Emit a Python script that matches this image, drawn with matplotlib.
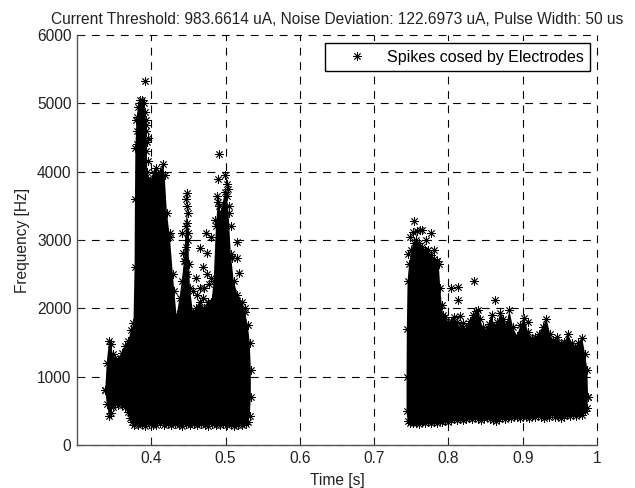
import matplotlib
matplotlib.use("Agg")
import matplotlib.pyplot as plt

plt.rcParams['font.family'] = ['Liberation Sans', 'DejaVu Sans']

# upper and lower outlines of the two black clouds
burst1_top_t = [.338, .340, .343, .346, .348, .351, .355, .360, .3645, .3685, .373, .376, .3775, .378,
                .3786, .380, .382, .385, .388, .390, .392, .393, .394, .3945, .396, .398, .4008, .403,
                .406, .409, .412, .4156, .418, .421, .425, .429, .431, .434, .438, .441, .444, .4465,
                .448, .4495, .452, .456, .460, .465, .471, .476, .481, .484, .487, .4895, .4935, .499,
                .5016, .504, .507, .511, .516, .522, .526, .530, .5325, .534]
burst1_top_f = [800, 1200, 1520, 1480, 1330, 1280, 1250, 1350, 1450, 1520, 1680, 1780, 2600, 3600,
                4350, 4760, 4950, 5050, 5050, 5000, 4880, 4690, 4440, 4000, 3900, 3860, 3880, 3980,
                4050, 3950, 4000, 4110, 3950, 3400, 3050, 2500, 2250, 1900, 2150, 2400, 2700, 3200,
                3500, 3100, 2300, 1950, 2000, 2100, 2000, 2100, 2100, 2400, 3200, 3550, 3400, 3700,
                3650, 3400, 2800, 2400, 2200, 2100, 1950, 1750, 1500, 1100]
burst1_low_t = [.338, .340, .343, .346, .348, .351, .355, .360, .365, .368, .371, .374, .3766,
                .382, .387, .392, .397, .402, .407, .412, .417, .422, .427, .432, .437, .442, .447,
                .452, .457, .462, .467, .472, .477, .482, .487, .492, .497, .502, .507, .512, .517,
                .522, .527, .530, .5325, .534]
burst1_low_f = [800, 600, 430, 470, 560, 620, 590, 580, 560, 480, 400, 340, 300,
                290, 305, 285, 310, 300, 290, 315, 295, 305, 290, 310, 300, 285, 305,
                295, 310, 290, 305, 295, 285, 310, 300, 290, 305, 295, 310, 285, 300,
                295, 310, 330, 420, 700]

burst2_top_t = [.7436, .744, .745, .747, .750, .753, .756, .760, .764, .768, .772, .776, .780, .784, .787,
                .789, .791, .793, .796, .799, .803, .807, .811, .815, .819, .823,
                .826, .829, .833, .837, .840, .843, .846, .850, .854, .858, .862, .866, .870, .874, .878,
                .882, .887, .892, .897, .902, .907, .912, .917, .922, .927, .932, .937, .941, .946, .951,
                .956, .961, .966, .971, .975, .980, .984, .987, .988]
burst2_top_f = [1000, 1700, 2400, 2650, 2850, 2950, 3000, 2950, 2900, 2850, 2800, 2780, 2720, 2700, 2650,
                2300, 2050, 1900, 1880, 1800, 1820, 1880, 1800, 1720, 1785, 1700,
                1740, 1815, 1900, 1960, 1980, 1850, 1720, 1680, 1775, 1900, 1740, 1800, 1930, 1850, 1760,
                1970, 1720, 1600, 1750, 1860, 1660, 1560, 1580, 1630, 1730, 1850, 1620, 1530, 1580, 1500,
                1510, 1620, 1500, 1440, 1500, 1570, 1330, 1100, 700]
burst2_low_t = [.7436, .745, .748, .752, .756, .760, .764, .768, .772, .776, .780, .784, .788,
                .792, .796, .800, .804, .808, .812, .816, .820, .824, .828, .832, .836, .840, .844, .848,
                .852, .856, .860, .864, .868, .872, .876, .880, .884, .888, .892, .896, .900, .904, .908,
                .912, .916, .920, .924, .928, .932, .936, .940, .944, .948, .952, .956, .960, .964, .968,
                .972, .976, .980, .984, .987, .988]
burst2_low_f = [500, 350, 320, 315, 325, 310, 330, 315, 335, 320, 340, 325, 345,
                330, 350, 335, 365, 380, 360, 385, 365, 380, 400, 375, 405, 385, 360, 395,
                415, 385, 365, 355, 385, 405, 385, 420, 395, 430, 405, 390, 430, 405, 395,
                425, 405, 440, 415, 400, 430, 415, 450, 410, 430, 400, 425, 445, 420, 460,
                430, 470, 440, 500, 540, 700]

# stragglers that stand clear of the clouds
stray_t = [.391, .491, .441, .473, .481, .465, .475, .4425, .516, .508, .516, .425, .518, .510, .526,
           .803, .813, .813, .834, .863, .816, .9075, .754, .765, .776, .773,
           .381, .381, .381, .393, .393, .393, .395, .395,
           .448, .447, .449, .448, .450, .447, .445, .451, .448,
           .460, .465, .469, .471, .475, .478, .470, .480, .456, .462,
           .486, .4895, .489, .491, .495, .499, .5016, .503, .505, .507,
           .745, .748, .752, .758, .762, .770, .780, .785]
stray_f = [5330, 4260, 3100, 3100, 3050, 2880, 2810, 2810, 2970, 2740, 2740, 3100, 2510, 2225, 2000,
           2300, 2315, 2120, 2400, 2120, 1890, 1800, 3280, 3150, 3100, 2855,
           4400, 4600, 4800, 4750, 4600, 4300, 4150, 4500,
           3690, 3600, 3400, 3250, 3000, 2900, 2700, 2650, 2500,
           2450, 2300, 2600, 2300, 2500, 2350, 2150, 2450, 2250, 2200,
           3300, 3900, 3650, 3500, 3400, 3950, 3820, 3750, 3500, 3200,
           2800, 3050, 3120, 3130, 3150, 3000, 2850, 2700]

xticks = [.4, .5, .6, .7, .8, .9, 1]
xticklabels = ['0.4', '0.5', '0.6', '0.7', '0.8', '0.9', '1']
yticks = [0, 1000, 2000, 3000, 4000, 5000, 6000]

fig = plt.figure(figsize=(6.35, 4.88), dpi=100)
ax = fig.add_axes([77/635, 43/488, 520/635, 410/488])

star = (8, 2, 0)
for t_top, f_top, t_low, f_low in [(burst1_top_t, burst1_top_f, burst1_low_t, burst1_low_f),
                                   (burst2_top_t, burst2_top_f, burst2_low_t, burst2_low_f)]:
    ax.fill(t_top + t_low[::-1], f_top + f_low[::-1], color='black', lw=0, zorder=3)
    ax.plot(t_top, f_top, linestyle='none', marker=star, ms=6, mew=0.6, color='black', zorder=3)
    ax.plot(t_low, f_low, linestyle='none', marker=star, ms=6, mew=0.6, color='black', zorder=3)
line, = ax.plot(stray_t, stray_f, linestyle='none', marker=star, ms=6, mew=0.6, color='black', zorder=3,
                label='Spikes cosed by Electrodes')

ax.set_xlim(.3, 1)
ax.set_ylim(0, 6000)
ax.set_xticks(xticks)
ax.set_xticklabels(xticklabels)
ax.set_yticks(yticks)
ax.grid(True, color='black', linestyle=(0, (7, 6)), linewidth=0.8, zorder=1)
ax.set_axisbelow(True)
for side in ['top', 'right']:
    ax.spines[side].set_visible(False)
for side in ['left', 'bottom']:
    ax.spines[side].set_color('#555555')
    ax.spines[side].set_linewidth(1.0)
ax.tick_params(direction='in', length=4, width=0.7, labelsize=11.2, pad=4, color='#222222', labelcolor='#222222')

# MATLAB-style limit gridlines along the top and right
for gl in ax.get_xgridlines() + ax.get_ygridlines():
    gl.set_clip_on(False)

ax.set_xlabel('Time [s]', fontsize=11.2, labelpad=5, color='#222222')
ax.set_ylabel('Frequency [Hz]', fontsize=11.2, labelpad=5, color='#222222')
ax.set_title('Current Threshold: 983.6614 uA, Noise Deviation: 122.6973 uA, Pulse Width: 50 us',
             fontsize=11.2, pad=8, color='#222222')

leg = ax.legend(handles=[line], loc='lower left', bbox_to_anchor=(248/520, 374/410, 265/520, 28/410),
                mode='expand', fontsize=11.5, fancybox=False, framealpha=1, edgecolor='black',
                borderaxespad=0, handlelength=3.2, handletextpad=0.3, borderpad=0.4, numpoints=1)
leg.get_frame().set_linewidth(1.0)
leg.set_zorder(5)

fig.savefig('out.png', dpi=100)
